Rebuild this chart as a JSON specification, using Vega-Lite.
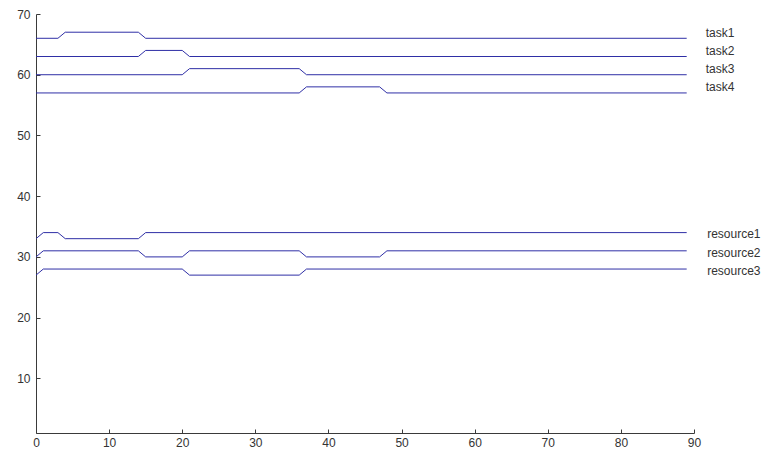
{
  "$schema": "https://vega.github.io/schema/vega-lite/v6.json",
  "width": 658,
  "height": 419,
  "autosize": {"type": "none"},
  "padding": {"left": 36, "top": 14, "right": 77, "bottom": 23},
  "background": "white",
  "config": {
    "view": {"stroke": null},
    "font": "Liberation Sans",
    "axis": {
      "grid": false,
      "domainColor": "#3a3a3a",
      "tickColor": "#3a3a3a",
      "labelColor": "#333333",
      "labelFont": "Liberation Sans",
      "labelFontSize": 12,
      "title": null
    }
  },
  "datasets": {
    "lines": [
      {"series": "task1", "x": 0, "y": 66}, {"series": "task1", "x": 3, "y": 66}, {"series": "task1", "x": 4, "y": 67}, {"series": "task1", "x": 14, "y": 67}, {"series": "task1", "x": 15, "y": 66}, {"series": "task1", "x": 89, "y": 66},
      {"series": "task2", "x": 0, "y": 63}, {"series": "task2", "x": 14, "y": 63}, {"series": "task2", "x": 15, "y": 64}, {"series": "task2", "x": 20, "y": 64}, {"series": "task2", "x": 21, "y": 63}, {"series": "task2", "x": 89, "y": 63},
      {"series": "task3", "x": 0, "y": 60}, {"series": "task3", "x": 20, "y": 60}, {"series": "task3", "x": 21, "y": 61}, {"series": "task3", "x": 36, "y": 61}, {"series": "task3", "x": 37, "y": 60}, {"series": "task3", "x": 89, "y": 60},
      {"series": "task4", "x": 0, "y": 57}, {"series": "task4", "x": 36, "y": 57}, {"series": "task4", "x": 37, "y": 58}, {"series": "task4", "x": 47, "y": 58}, {"series": "task4", "x": 48, "y": 57}, {"series": "task4", "x": 89, "y": 57},
      {"series": "resource1", "x": 0, "y": 33}, {"series": "resource1", "x": 1, "y": 34}, {"series": "resource1", "x": 3, "y": 34}, {"series": "resource1", "x": 4, "y": 33}, {"series": "resource1", "x": 14, "y": 33}, {"series": "resource1", "x": 15, "y": 34}, {"series": "resource1", "x": 89, "y": 34},
      {"series": "resource2", "x": 0, "y": 30}, {"series": "resource2", "x": 1, "y": 31}, {"series": "resource2", "x": 14, "y": 31}, {"series": "resource2", "x": 15, "y": 30}, {"series": "resource2", "x": 20, "y": 30}, {"series": "resource2", "x": 21, "y": 31}, {"series": "resource2", "x": 36, "y": 31}, {"series": "resource2", "x": 37, "y": 30}, {"series": "resource2", "x": 47, "y": 30}, {"series": "resource2", "x": 48, "y": 31}, {"series": "resource2", "x": 89, "y": 31},
      {"series": "resource3", "x": 0, "y": 27}, {"series": "resource3", "x": 1, "y": 28}, {"series": "resource3", "x": 20, "y": 28}, {"series": "resource3", "x": 21, "y": 27}, {"series": "resource3", "x": 36, "y": 27}, {"series": "resource3", "x": 37, "y": 28}, {"series": "resource3", "x": 89, "y": 28}
    ],
    "labels": [
      {"label": "task1", "x": 91.6, "y": 66.9},
      {"label": "task2", "x": 91.6, "y": 63.9},
      {"label": "task3", "x": 91.6, "y": 60.9},
      {"label": "task4", "x": 91.6, "y": 57.9},
      {"label": "resource1", "x": 91.8, "y": 33.7},
      {"label": "resource2", "x": 91.8, "y": 30.7},
      {"label": "resource3", "x": 91.8, "y": 27.6}
    ]
  },
  "layer": [
    {
      "data": {"name": "lines"},
      "mark": {"type": "line", "color": "#2f2fa6", "strokeWidth": 1, "interpolate": "linear"},
      "encoding": {
        "x": {
          "field": "x", "type": "quantitative",
          "scale": {"domain": [0, 90], "nice": false, "zero": false},
          "axis": {
            "values": [0, 10, 20, 30, 40, 50, 60, 70, 80, 90],
            "ticks": true, "tickSize": -4, "tickWidth": 1, "labelPadding": 8, "labelFlush": false
          }
        },
        "y": {
          "field": "y", "type": "quantitative",
          "scale": {"domain": [1, 70], "nice": false, "zero": false},
          "axis": {
            "values": [10, 20, 30, 40, 50, 60, 70],
            "ticks": true, "tickSize": -4, "tickWidth": 1, "labelPadding": 10
          }
        },
        "detail": {"field": "series"},
        "order": {"field": "x", "type": "quantitative"}
      }
    },
    {
      "data": {"name": "labels"},
      "mark": {"type": "text", "align": "left", "baseline": "middle", "fontSize": 12, "color": "#333333", "font": "Liberation Sans"},
      "encoding": {
        "x": {"field": "x", "type": "quantitative"},
        "y": {"field": "y", "type": "quantitative"},
        "text": {"field": "label"}
      }
    }
  ]
}
